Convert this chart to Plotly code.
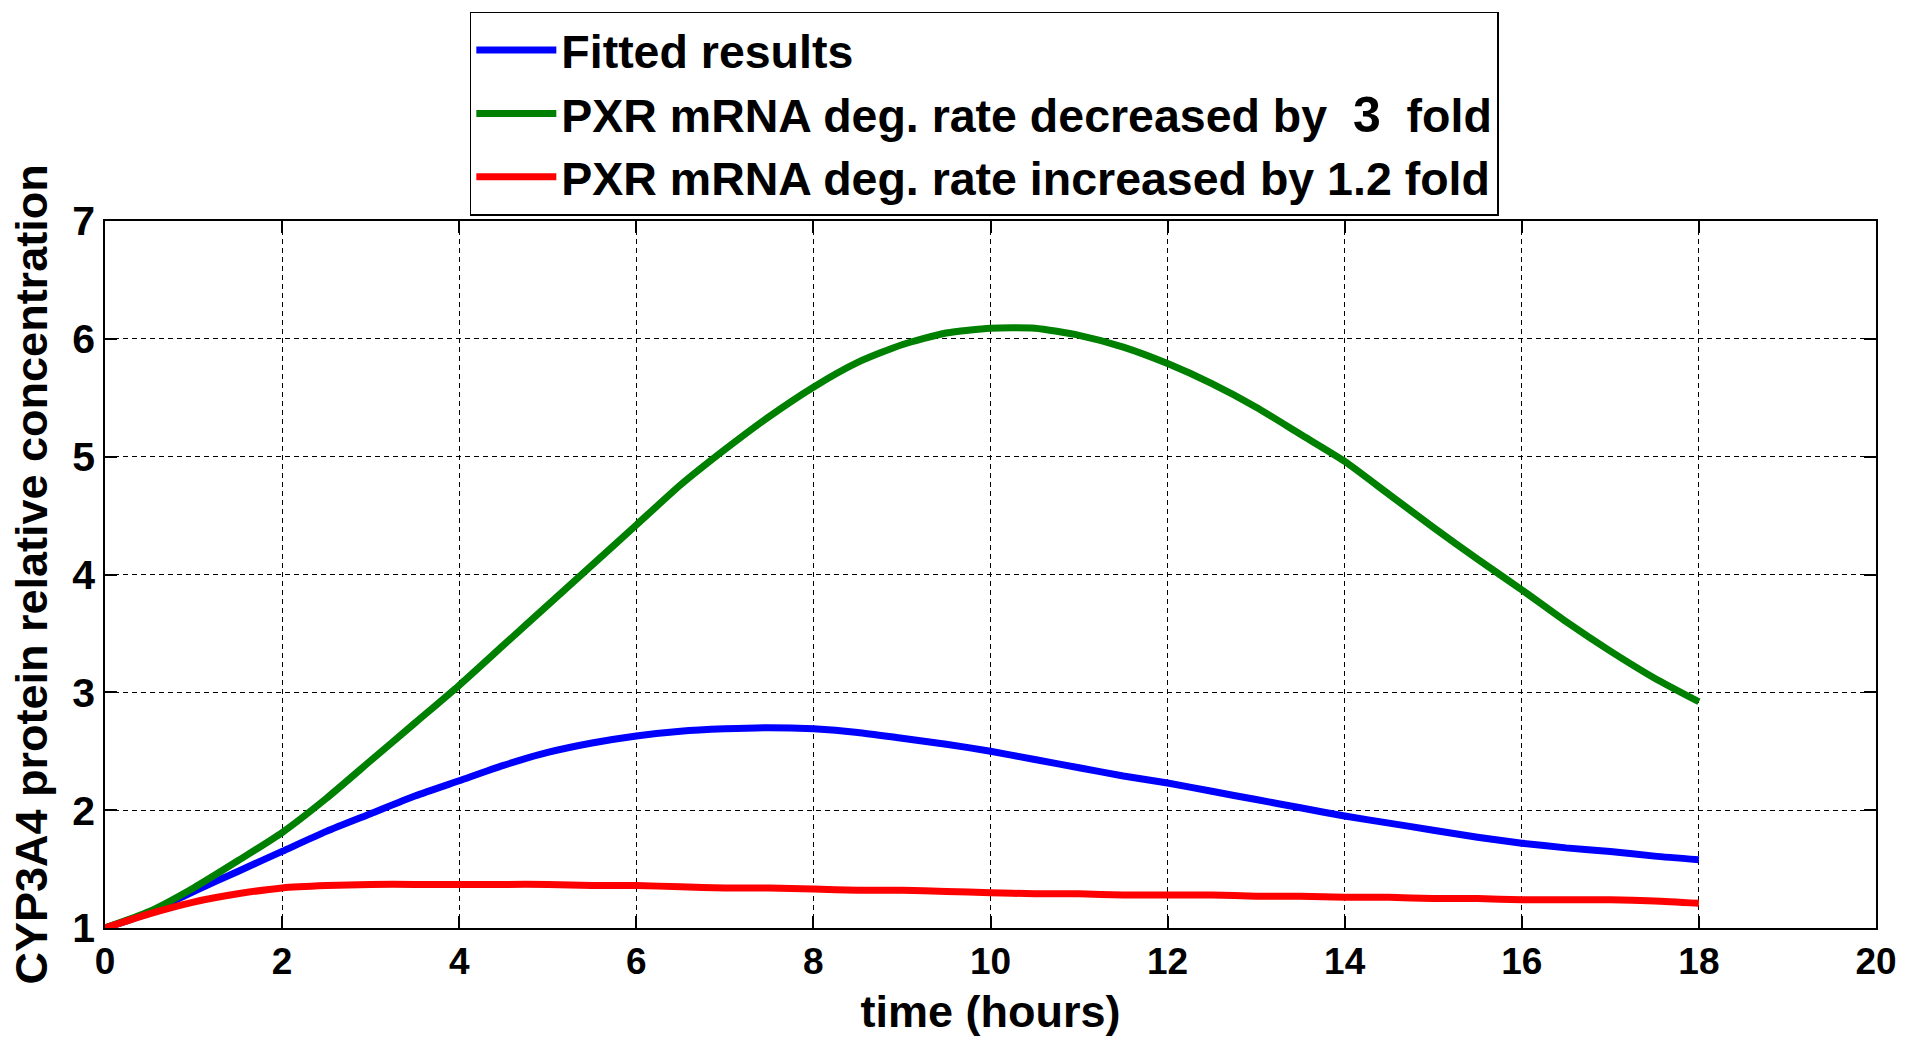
import plotly.graph_objects as go

# Time points (hours)
time_h = [0, 0.5, 1, 1.5, 2, 2.5, 3, 3.5, 4, 4.5, 5, 5.5, 6, 6.5, 7, 7.5, 8, 8.5, 9,
          9.5, 10, 10.5, 11, 11.5, 12, 12.5, 13, 13.5, 14, 14.5, 15, 15.5, 16, 16.5,
          17, 17.5, 18]

# CYP3A4 protein relative concentration for each scenario
fitted = [1.00, 1.13, 1.31, 1.48, 1.65, 1.82, 1.97, 2.12, 2.25, 2.38, 2.49, 2.57,
          2.63, 2.67, 2.69, 2.70, 2.69, 2.66, 2.61, 2.56, 2.50, 2.43, 2.36, 2.29,
          2.23, 2.16, 2.09, 2.02, 1.95, 1.89, 1.83, 1.77, 1.72, 1.68, 1.65, 1.61,
          1.58]
deg_decreased = [1.00, 1.14, 1.34, 1.57, 1.81, 2.10, 2.42, 2.74, 3.06, 3.40, 3.74,
                 4.08, 4.42, 4.76, 5.06, 5.34, 5.59, 5.80, 5.95, 6.05, 6.09, 6.09,
                 6.03, 5.93, 5.79, 5.62, 5.42, 5.19, 4.96, 4.68, 4.40, 4.13, 3.87,
                 3.60, 3.35, 3.12, 2.92]
deg_increased = [1.00, 1.12, 1.22, 1.29, 1.34, 1.36, 1.37, 1.37, 1.37, 1.37, 1.37,
                 1.36, 1.36, 1.35, 1.34, 1.34, 1.33, 1.32, 1.32, 1.31, 1.30, 1.29,
                 1.29, 1.28, 1.28, 1.28, 1.27, 1.27, 1.26, 1.26, 1.25, 1.25, 1.24,
                 1.24, 1.24, 1.23, 1.21]

x_ticks = [0, 2, 4, 6, 8, 10, 12, 14, 16, 18, 20]
y_ticks = [1, 2, 3, 4, 5, 6, 7]

NB = "\u00a0"
series = [
    ("Fitted results", fitted, "#0000FF"),
    ("PXR mRNA deg. rate decreased by" + NB * 2
     + "<span style='font-size:50px;font-weight:bold'>3</span>" + NB * 2 + "fold",
     deg_decreased, "#008000"),
    ("PXR mRNA deg. rate increased by 1.2 fold", deg_increased, "#FF0000"),
]

fig = go.Figure()
for name, vals, color in series:
    fig.add_trace(go.Scatter(x=time_h, y=vals, mode="lines", name=name,
                             line=dict(color=color, width=7, shape="spline",
                                       smoothing=0.6)))

FONT = "Liberation Sans, Arial, sans-serif"
axis_common = dict(
    showline=True, linecolor="black", linewidth=1.5, mirror="ticks",
    ticks="inside", ticklen=12, tickwidth=1.5, tickcolor="black",
    showgrid=True, gridcolor="black", gridwidth=1, griddash="5px,4px",
    zeroline=False,
)

fig.update_xaxes(range=[0, 20], tickvals=x_ticks,
                 tickfont=dict(family=FONT, size=37, color="black", weight="bold"),
                 title=dict(text="time (hours)", standoff=14,
                            font=dict(family=FONT, size=45, color="black", weight="bold")),
                 **axis_common)
fig.update_yaxes(range=[1, 7], tickvals=y_ticks,
                 tickfont=dict(family=FONT, size=41, color="black", weight="bold"),
                 title=dict(text="CYP3A4 protein relative concentration", standoff=10,
                            font=dict(family=FONT, size=45, color="black", weight="bold")),
                 **axis_common)

fig.update_layout(
    width=1909, height=1040,
    margin=dict(l=105, r=24, t=221, b=105),
    paper_bgcolor="white", plot_bgcolor="white",
    font=dict(family=FONT, color="black"),
    legend=dict(x=0.206, y=1.296, xanchor="left", yanchor="top",
                bgcolor="white", bordercolor="black", borderwidth=1.5,
                font=dict(family=FONT, size=46.5, color="black", weight="bold"),
                itemwidth=80, tracegroupgap=0),
)

fig.write_html("out.html")
